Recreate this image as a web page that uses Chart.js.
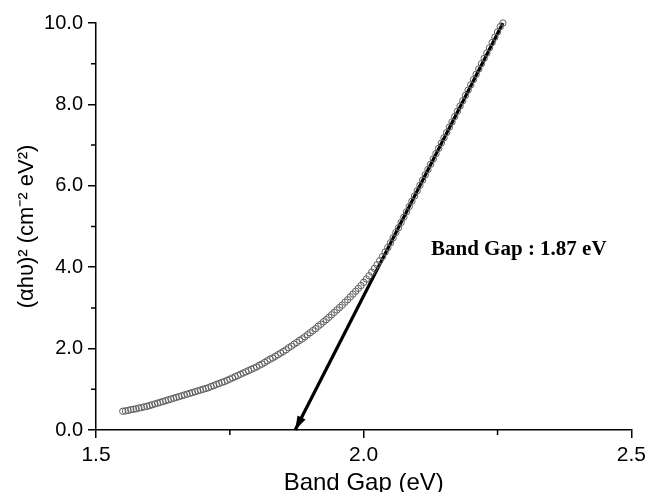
<!DOCTYPE html>
<html>
<head>
<meta charset="utf-8">
<script src="https://cdn.jsdelivr.net/npm/chart.js@4.4.1/dist/chart.umd.min.js"></script>
<style>
  html, body { margin: 0; padding: 0; background: #fff; }
  #wrap { width: 651px; height: 492px; }
</style>
</head>
<body>
<div id="wrap"><canvas id="chart" width="651" height="492"></canvas></div>
<script>
const bandGap = [
  1.550, 1.555, 1.560, 1.565, 1.570, 1.575, 1.580, 1.585, 1.590, 1.595,
  1.600, 1.605, 1.610, 1.615, 1.620, 1.625, 1.630, 1.635, 1.640, 1.645,
  1.650, 1.655, 1.660, 1.665, 1.670, 1.675, 1.680, 1.685, 1.690, 1.695,
  1.700, 1.705, 1.710, 1.715, 1.720, 1.725, 1.730, 1.735, 1.740, 1.745,
  1.750, 1.755, 1.760, 1.765, 1.770, 1.775, 1.780, 1.785, 1.790, 1.795,
  1.800, 1.805, 1.810, 1.815, 1.820, 1.825, 1.830, 1.835, 1.840, 1.845,
  1.850, 1.855, 1.860, 1.865, 1.870, 1.875, 1.880, 1.885, 1.890, 1.895,
  1.900, 1.905, 1.910, 1.915, 1.920, 1.925, 1.930, 1.935, 1.940, 1.945,
  1.950, 1.955, 1.960, 1.965, 1.970, 1.975, 1.980, 1.985, 1.990, 1.995,
  2.000, 2.005, 2.010, 2.015, 2.020, 2.025, 2.030, 2.035, 2.040, 2.045,
  2.050, 2.055, 2.060, 2.065, 2.070, 2.075, 2.080, 2.085, 2.090, 2.095,
  2.100, 2.105, 2.110, 2.115, 2.120, 2.125, 2.130, 2.135, 2.140, 2.145,
  2.150, 2.155, 2.160, 2.165, 2.170, 2.175, 2.180, 2.185, 2.190, 2.195,
  2.200, 2.205, 2.210, 2.215, 2.220, 2.225, 2.230, 2.235, 2.240, 2.245,
  2.250, 2.255, 2.260
];
const alphaHv2 = [
  0.46, 0.47, 0.48, 0.50, 0.51, 0.52, 0.54, 0.55, 0.57, 0.58,
  0.60, 0.62, 0.64, 0.66, 0.68, 0.70, 0.72, 0.74, 0.76, 0.78,
  0.80, 0.82, 0.84, 0.86, 0.88, 0.90, 0.92, 0.94, 0.96, 0.98,
  1.00, 1.02, 1.04, 1.07, 1.09, 1.12, 1.14, 1.17, 1.19, 1.22,
  1.25, 1.28, 1.31, 1.34, 1.37, 1.40, 1.43, 1.46, 1.49, 1.52,
  1.55, 1.59, 1.62, 1.66, 1.70, 1.74, 1.77, 1.81, 1.85, 1.89,
  1.93, 1.97, 2.02, 2.06, 2.11, 2.15, 2.20, 2.24, 2.29, 2.34,
  2.39, 2.44, 2.49, 2.55, 2.60, 2.66, 2.71, 2.77, 2.83, 2.89,
  2.95, 3.01, 3.07, 3.14, 3.20, 3.27, 3.34, 3.41, 3.48, 3.55,
  3.63, 3.71, 3.79, 3.88, 3.97, 4.06, 4.16, 4.26, 4.37, 4.48,
  4.60, 4.72, 4.85, 4.97, 5.10, 5.23, 5.36, 5.49, 5.62, 5.75,
  5.88, 6.01, 6.14, 6.27, 6.40, 6.53, 6.66, 6.79, 6.92, 7.05,
  7.18, 7.31, 7.44, 7.57, 7.70, 7.83, 7.96, 8.09, 8.22, 8.35,
  8.48, 8.61, 8.74, 8.87, 9.00, 9.13, 9.26, 9.39, 9.52, 9.65,
  9.78, 9.91, 10.00
];
// tangent line: drawn from top end down to the x-intercept (arrow head there)
const fitX = [2.26, 1.872];
const fitY = [10.0, 0.0];
const xMinorTicks = [1.75, 2.25];
const yMinorTicks = [1, 3, 5, 7, 9];
const gapLabel = "Band Gap : 1.87 eV";

const points = bandGap.map((x, i) => ({ x: x, y: alphaHv2[i] }));
const fitLine = fitX.map((x, i) => ({ x: x, y: fitY[i] }));

const extras = {
  id: "extras",
  afterDatasetsDraw(chart) {
    const { ctx, scales: { x, y } } = chart;
    ctx.save();
    // minor ticks
    ctx.strokeStyle = "#000";
    ctx.lineWidth = 1.5;
    ctx.beginPath();
    xMinorTicks.forEach(v => {
      const px = x.getPixelForValue(v);
      ctx.moveTo(px, y.bottom);
      ctx.lineTo(px, y.bottom + 5);
    });
    yMinorTicks.forEach(v => {
      const py = y.getPixelForValue(v);
      ctx.moveTo(x.left, py);
      ctx.lineTo(x.left - 5, py);
    });
    ctx.stroke();

    // arrow head at the intercept
    const x0 = x.getPixelForValue(fitX[0]), y0 = y.getPixelForValue(fitY[0]);
    const x1 = x.getPixelForValue(fitX[1]), y1 = y.getPixelForValue(fitY[1]);
    const ang = Math.atan2(y1 - y0, x1 - x0);
    const len = 14, half = 4.5;
    ctx.fillStyle = "#000";
    ctx.beginPath();
    ctx.moveTo(x1, y1);
    ctx.lineTo(x1 - len * Math.cos(ang) + half * Math.sin(ang), y1 - len * Math.sin(ang) - half * Math.cos(ang));
    ctx.lineTo(x1 - len * Math.cos(ang) - half * Math.sin(ang), y1 - len * Math.sin(ang) + half * Math.cos(ang));
    ctx.closePath();
    ctx.fill();

    // annotation
    ctx.font = "bold 21px 'Liberation Serif', 'Times New Roman', serif";
    ctx.textBaseline = "alphabetic";
    ctx.textAlign = "left";
    ctx.fillText(gapLabel, 431, 255);
    ctx.restore();
  }
};

const ctx = document.getElementById("chart").getContext("2d");
new Chart(ctx, {
  type: "scatter",
  data: {
    datasets: [
      {
        label: "data",
        data: points,
        showLine: false,
        pointStyle: "circle",
        pointRadius: 3.2,
        pointBorderWidth: 1,
        pointBorderColor: "#5e5e5e",
        pointBackgroundColor: "rgba(255,255,255,0)",
        clip: false,
      },
      {
        label: "fit",
        data: fitLine,
        showLine: true,
        borderColor: "#000",
        borderWidth: 3.2,
        pointRadius: 0,
        clip: false,
      },
    ],
  },
  plugins: [extras],
  options: {
    responsive: false,
    animation: false,
    events: [],
    layout: { padding: { left: 0, right: 17, top: 23, bottom: 0 } },
    scales: {
      x: {
        type: "linear",
        min: 1.5,
        max: 2.5,
        afterFit: s => { s.height = 62; },
        border: { display: true, color: "#000", width: 1.5 },
        grid: { drawOnChartArea: false, drawTicks: true, tickLength: 8, color: "#000", lineWidth: 1.5 },
        ticks: {
          stepSize: 0.5,
          padding: 5,
          color: "#000",
          font: { family: "'Liberation Sans', Arial, sans-serif", size: 21 },
          callback: v => v.toFixed(1),
        },
        title: {
          display: true,
          text: "Band Gap (eV)",
          color: "#000",
          padding: { top: 0, bottom: -6 },
          font: { family: "'Liberation Sans', Arial, sans-serif", size: 24 },
        },
      },
      y: {
        type: "linear",
        min: 0,
        max: 10,
        afterFit: s => { s.width = 96; },
        border: { display: true, color: "#000", width: 1.5 },
        grid: { drawOnChartArea: false, drawTicks: true, tickLength: 8, color: "#000", lineWidth: 1.5 },
        ticks: {
          stepSize: 2,
          padding: 5,
          color: "#000",
          font: { family: "'Liberation Sans', Arial, sans-serif", size: 20 },
          callback: v => v.toFixed(1),
        },
        title: {
          display: true,
          text: "(αhυ)² (cm⁻² eV²)",
          color: "#000",
          padding: { top: 14, bottom: 0 },
          font: { family: "'Liberation Sans', Arial, sans-serif", size: 22 },
        },
      },
    },
    plugins: {
      legend: { display: false },
      tooltip: { enabled: false },
    },
  },
});
</script>
</body>
</html>
